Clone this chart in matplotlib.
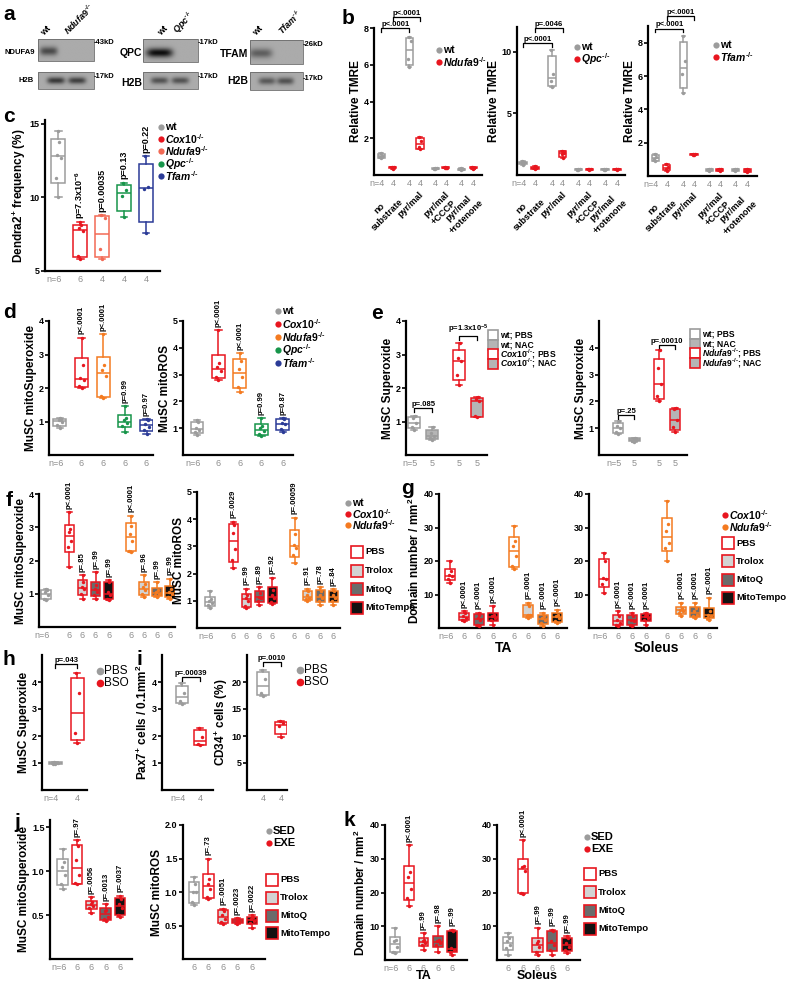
import numpy as np
import matplotlib
matplotlib.use("Agg")
import matplotlib.pyplot as plt
from matplotlib.patches import Rectangle

plt.rcParams["font.family"] = ["Liberation Sans", "DejaVu Sans"]
plt.rcParams["mathtext.fontset"] = "custom"
plt.rcParams["mathtext.rm"] = "Liberation Sans:bold"
plt.rcParams["mathtext.it"] = "Liberation Sans:italic:bold"
plt.rcParams["mathtext.bf"] = "Liberation Sans:bold"
plt.rcParams["mathtext.default"] = "regular"

W, H = 788, 983

GREY = "#9c9c9c"
RED = "#e8161f"
ORANGE = "#f47a20"
SALMON = "#f26a55"
GREEN = "#17954a"
BLUE = "#2b3b97"
NGREY = "#8e8e8e"
TROLOX = "#d3d3d3"
MITOQ = "#6b6b6b"
MITOTEMPO = "#121212"
NAC = "#b5b5b5"

# ---------------- data ----------------
# a: western blot band strengths (wt, knockout)
ndufa9_band = [0.38, 0.0]
ndufa9_h2b = [0.45, 0.42]
qpc_band = [0.62, 0.0]
qpc_h2b = [0.35, 0.35]
tfam_band = [0.30, 0.0]
tfam_h2b = [0.32, 0.35]

# b: relative TMRE, (wt, KO) for each condition
b_conditions = ["no\nsubstrate", "pyr/mal", "pyr/mal\n+CCCP", "pyr/mal\n+rotenone"]
b_ndufa9 = [[0.9, 1.0, 1.05, 1.2], [0.35, 0.4, 0.42, 0.46],
            [5.9, 6.3, 7.3, 7.5], [1.4, 1.55, 1.85, 2.05],
            [0.32, 0.34, 0.36, 0.38], [0.36, 0.38, 0.4, 0.42],
            [0.26, 0.3, 0.33, 0.36], [0.35, 0.38, 0.4, 0.43]]
b_qpc = [[0.85, 0.95, 1.05, 1.1], [0.45, 0.55, 0.6, 0.7],
         [7.1, 7.6, 8.2, 10.1], [1.4, 1.7, 1.8, 1.95],
         [0.42, 0.44, 0.46, 0.48], [0.44, 0.45, 0.47, 0.49],
         [0.42, 0.44, 0.46, 0.48], [0.44, 0.45, 0.47, 0.49]]
b_tfam = [[0.9, 1.0, 1.15, 1.3], [0.3, 0.45, 0.55, 0.7],
          [5.0, 6.1, 6.9, 8.4], [1.25, 1.28, 1.32, 1.35],
          [0.32, 0.36, 0.4, 0.44], [0.3, 0.35, 0.4, 0.44],
          [0.3, 0.35, 0.4, 0.44], [0.25, 0.32, 0.38, 0.44]]

# c: Dendra2+ frequency
c_groups = ["wt", "Cox10", "Ndufa9", "Qpc", "Tfam"]
c_vals = [[10.0, 11.3, 12.7, 12.9, 13.8, 14.5], [5.8, 6.0, 7.7, 7.9, 8.1, 8.3],
          [5.8, 6.5, 8.6, 8.8], [8.7, 10.1, 10.5, 11.0], [7.6, 10.6, 10.7, 12.8]]
c_n = ["n=6", "6", "4", "4", "4"]
c_p = [None, "p=7.3x10$^{-6}$", "p=0.00035", "p=0.13", "p=0.22"]

# d: mitoSuperoxide / mitoROS
d_sox = [[0.8, 0.9, 1.0, 1.05, 1.08, 1.1], [2.0, 2.05, 2.25, 2.3, 2.7, 3.5],
         [1.7, 1.75, 2.35, 2.55, 2.7, 3.6], [0.7, 0.88, 0.95, 1.05, 1.1, 1.45],
         [0.62, 0.75, 0.85, 0.92, 1.05, 1.07]]
d_ros = [[0.75, 0.85, 0.92, 1.0, 1.22, 1.3], [2.8, 2.9, 3.15, 3.3, 3.45, 4.65],
         [2.35, 2.55, 2.9, 3.2, 3.5, 3.8], [0.7, 0.78, 0.9, 1.0, 1.1, 1.38],
         [0.85, 0.98, 1.15, 1.2, 1.35, 1.38]]
d_p_sox = [None, "p<.0001", "p<.0001", "p=0.99", "p=0.97"]
d_p_ros = [None, "p<.0001", "p<.0001", "p=0.99", "p=0.87"]

# e: superoxide with NAC (wt PBS, wt NAC, KO PBS, KO NAC)
e_cox10 = [[0.75, 0.85, 0.95, 1.1, 1.15], [0.45, 0.5, 0.58, 0.65, 0.85],
           [2.1, 2.4, 2.8, 2.9, 3.35], [1.12, 1.15, 1.62, 1.68, 1.72]]
e_ndufa9 = [[0.8, 0.85, 1.0, 1.1, 1.28], [0.5, 0.52, 0.55, 0.6, 0.65],
            [2.0, 2.2, 2.65, 3.25, 3.9], [0.85, 1.05, 1.3, 1.7, 1.75]]

# f: antioxidant treatments (wt, Cox10 x4, Ndufa9 x4)
treatments = ["PBS", "Trolox", "MitoQ", "MitoTempo"]
f_sox = [[0.8, 0.85, 0.95, 1.05, 1.1, 1.15],
         [1.8, 2.4, 2.6, 2.85, 2.95, 3.45], [0.85, 1.0, 1.15, 1.2, 1.35, 1.55],
         [0.85, 0.95, 1.05, 1.15, 1.25, 1.65], [0.8, 0.85, 0.95, 1.05, 1.35, 1.4],
         [2.25, 2.3, 2.6, 2.8, 3.05, 3.35], [0.9, 1.0, 1.1, 1.2, 1.3, 1.55],
         [0.9, 0.95, 1.0, 1.05, 1.1, 1.35], [0.85, 0.9, 1.0, 1.05, 1.15, 1.45]]
f_ros = [[0.75, 0.85, 0.92, 1.0, 1.05, 1.35],
         [2.2, 2.5, 2.9, 3.5, 3.8, 3.9], [0.75, 0.8, 1.0, 1.1, 1.2, 1.45],
         [0.85, 1.0, 1.1, 1.15, 1.3, 1.5], [0.9, 0.95, 1.1, 1.2, 1.4, 1.85],
         [2.4, 2.7, 2.95, 3.05, 3.45, 4.05], [1.0, 1.05, 1.1, 1.2, 1.35, 1.45],
         [0.85, 1.0, 1.1, 1.2, 1.35, 1.5], [0.85, 1.0, 1.1, 1.2, 1.35, 1.42]]
f_p_sox = [None, "p<.0001", "p=.85", "p=.99", "p=.99", "p<.0001", "p=.96", "p=.99", "p=.99"]
f_p_ros = [None, "p=.0029", "p=.99", "p=.89", "p=.92", "p=.00059", "p=.91", "p=.78", "p=.84"]

# g: domain number (Cox10 x4, Ndufa9 x4)
g_ta = [[13.5, 14.5, 15.5, 15.8, 17.0, 20.0], [2.0, 2.5, 3.0, 3.5, 4.5, 5.0],
        [0.5, 1.0, 2.5, 3.0, 4.0, 4.5], [1.0, 2.5, 3.0, 3.5, 4.0, 6.5],
        [17.5, 18.5, 21.5, 24.5, 26.0, 30.5], [3.0, 3.5, 4.0, 4.0, 6.5, 7.5],
        [0.5, 1.5, 2.5, 3.0, 3.5, 4.5], [1.5, 2.0, 3.0, 3.5, 4.0, 5.5]]
g_sol = [[10.5, 13.0, 14.5, 15.0, 20.0, 22.5], [0.5, 1.0, 1.5, 2.5, 3.5, 5.0],
         [0.5, 1.0, 2.0, 2.5, 3.5, 4.5], [1.0, 2.5, 3.0, 3.5, 4.0, 4.5],
         [20.0, 24.0, 25.5, 29.0, 31.0, 38.0], [3.5, 4.5, 5.0, 5.5, 6.0, 7.5],
         [3.0, 3.5, 4.0, 5.0, 6.0, 7.5], [2.5, 3.0, 3.5, 4.0, 5.0, 9.0]]
g_p_ta = [None, "p<.0001", "p<.0001", "p<.0001", None, "p=.0001", "p=.0001", "p<.0001"]
g_p_sol = [None, "p<.0001", "p<.0001", "p<.0001", None, "p<.0001", "p<.0001", "p<.0001"]

# h, i: BSO
h_vals = [[0.95, 0.98, 1.0, 1.03], [1.75, 2.1, 3.6, 4.35]]
i_pax7 = [[3.2, 3.3, 3.6, 3.95], [1.65, 1.7, 1.95, 2.3]]
i_cd34 = [[17.5, 18.0, 20.5, 22.2], [9.8, 11.8, 12.4, 12.7]]

# j, k: exercise (SED, EXE PBS/Trolox/MitoQ/MitoTempo)
j_sox = [[0.8, 0.85, 0.95, 1.05, 1.1, 1.25], [0.85, 0.86, 0.95, 1.12, 1.28, 1.35],
         [0.52, 0.58, 0.6, 0.62, 0.65, 0.7], [0.43, 0.45, 0.48, 0.55, 0.56, 0.62],
         [0.48, 0.5, 0.58, 0.62, 0.68, 0.72]]
j_ros = [[0.8, 0.85, 1.0, 1.0, 1.12, 1.22], [0.9, 0.92, 1.05, 1.12, 1.2, 1.5],
         [0.52, 0.55, 0.6, 0.65, 0.72, 0.75], [0.52, 0.54, 0.55, 0.58, 0.6, 0.61],
         [0.47, 0.53, 0.56, 0.6, 0.62, 0.65]]
j_p_sox = [None, "p=.97", "p=.0056", "p=.0013", "p=.0037"]
j_p_ros = [None, "p=.73", "p=.0051", "p=.0023", "p=.0022"]
k_ta = [[2.0, 2.5, 4.0, 5.5, 6.0, 9.5], [16.0, 18.5, 21.0, 24.5, 26.0, 34.0],
        [3.0, 4.5, 5.0, 5.5, 6.0, 8.0], [2.5, 4.5, 5.0, 5.5, 6.0, 10.0],
        [1.5, 2.5, 3.0, 3.5, 8.5, 9.0]]
k_sol = [[1.5, 3.5, 4.5, 5.5, 6.5, 8.0], [19.5, 20.0, 26.5, 27.5, 28.0, 35.5],
         [1.5, 2.5, 4.0, 5.0, 5.5, 9.5], [1.5, 3.0, 4.5, 5.5, 8.5, 9.0],
         [2.0, 3.0, 4.0, 5.0, 6.5, 7.0]]
k_p_ta = [None, "p<.0001", "p=.99", "p=.98", "p=.99"]
k_p_sol = [None, "p<.0001", "p=.99", "p=.99", "p=.99"]

JIT = np.array([0.0, -0.18, 0.18, -0.08, 0.08, 0.0])


def ko(name):
    return r"$\mathit{%s}^{‐/‐}$" % name


fig = plt.figure(figsize=(W / 100, H / 100), dpi=100)
bg = fig.add_axes([0, 0, 1, 1])
bg.set_autoscale_on(False)
bg.set_xlim(0, W)
bg.set_ylim(H, 0)
bg.axis("off")


def prism_stats(vals):
    x = np.sort(np.asarray(vals, float))
    n = len(x)

    def q(p):
        r = min(max((n + 1) * p - 1, 0), n - 1)
        lo = int(np.floor(r))
        hi = min(lo + 1, n - 1)
        return x[lo] + (r - lo) * (x[hi] - x[lo])
    return dict(med=q(0.5), q1=q(0.25), q3=q(0.75), whislo=x[0], whishi=x[-1], fliers=[])


def make_axes(x0, x1, ytop, ybot, xlim, ylim, yticks, ylabel, labels=None):
    ax = fig.add_axes([x0 / W, 1 - ybot / H, (x1 - x0) / W, (ybot - ytop) / H])
    ax.patch.set_visible(False)
    ax.set_xlim(*xlim)
    ax.set_ylim(*ylim)
    for s in ("top", "right"):
        ax.spines[s].set_visible(False)
    for s in ("left", "bottom"):
        ax.spines[s].set_linewidth(1.6)
    ax.set_xticks([])
    ax.set_yticks(yticks)
    ax.set_yticklabels(labels or ["%g" % t for t in yticks], fontsize=6.5, fontweight="bold")
    ax.tick_params(axis="y", length=3, width=1.2, pad=1)
    if ylabel:
        ax.set_ylabel(ylabel, fontsize=8.5, fontweight="bold", labelpad=1)
    return ax


def boxes(ax, data, pos, edges, fills, width):
    for vals, p, ec, fc in zip(data, pos, edges, fills):
        lp = dict(color=ec, linewidth=1.1)
        ax.bxp([prism_stats(vals)], positions=[p], widths=width, capwidths=width * 0.5,
               patch_artist=True, showfliers=False, manage_ticks=False,
               boxprops=dict(facecolor=fc, edgecolor=ec, linewidth=1.1),
               medianprops=lp, whiskerprops=lp, capprops=lp)
        ax.scatter(p + JIT[:len(vals)] * width, vals, s=6, color=ec, zorder=4, linewidths=0)


def n_labels(ax, pos, labels):
    for p, t in zip(pos, labels):
        first = t.startswith("n=")
        ax.annotate(t, (p, 0), xycoords=("data", "axes fraction"), xytext=(2.5 if first else 0, -3),
                    textcoords="offset points", ha="right" if first else "center", va="top",
                    fontsize=6.5, color=NGREY, annotation_clip=False)


def p_labels(ax, pos, data, labels, fs=5.5):
    for p, vals, t in zip(pos, data, labels):
        if t:
            ax.annotate(t, (p, max(vals)), xytext=(0, 2.5), textcoords="offset points", rotation=90,
                        ha="center", va="bottom", fontsize=fs, fontweight="bold", annotation_clip=False)


def bracket(ax, x1, x2, y, label, h):
    ax.plot([x1, x1, x2, x2], [y - h, y, y, y - h], color="k", lw=0.9, clip_on=False)
    ax.text((x1 + x2) / 2, y, label, ha="center", va="bottom", fontsize=5.5, fontweight="bold", clip_on=False)


def under_label(ax, x, text, dy=-9, fs=10):
    ax.annotate(text, (x, 0), xycoords=("data", "axes fraction"), xytext=(0, dy), textcoords="offset points",
                ha="center", va="top", fontsize=fs, fontweight="bold", annotation_clip=False)


def dot_legend(x, y, items, dy, fs=7.5, weight="bold", ms=4.5):
    for i, (lab, c) in enumerate(items):
        bg.plot(x, y + i * dy, "o", ms=ms, color=c, mew=0)
        bg.text(x + 4, y + i * dy, lab, va="center", ha="left", fontsize=fs, fontweight=weight)


def square_legend(x, y, items, dy, fs=6.8, ms=8):
    for i, (lab, fc, ec) in enumerate(items):
        bg.plot(x, y + i * dy, "s", ms=ms, mfc=fc, mec=ec, mew=1.2)
        bg.text(x + ms * 0.8 + 1, y + i * dy, lab, va="center", ha="left", fontsize=fs, fontweight="bold")


def blot(x0, y0, x1, y1, centers, strengths, yc=0.5, bw=0.16, bh=0.2):
    xx, yy = np.meshgrid(np.linspace(0, 1, 120), np.linspace(0, 1, 50))
    img = np.full(xx.shape, 0.67)
    for cx, s in zip(centers, strengths):
        img -= s * np.exp(-((xx - cx) / bw) ** 4 - ((yy - yc) / bh) ** 2)
    bg.imshow(np.clip(img, 0, 1), cmap="gray", vmin=0, vmax=1, extent=(x0, x1, y1, y0),
              aspect="auto", interpolation="bilinear", zorder=1)
    bg.add_patch(Rectangle((x0, y0), x1 - x0, y1 - y0, fill=False, ec="#6a6a6a", lw=0.6, zorder=2))


# ---------------- panel letters ----------------
for letter, x, y in [("a", 3, 5), ("b", 342, 9), ("c", 3, 107), ("d", 3, 303), ("e", 371, 304),
                     ("f", 6, 491), ("g", 401, 479), ("h", 3, 650), ("i", 137, 650),
                     ("j", 14, 813), ("k", 344, 811)]:
    bg.text(x, y, letter, fontsize=15, fontweight="bold", ha="left", va="top")

# ---------------- a: blots ----------------
blot(38, 39, 94, 61, [0.19, 0.7], ndufa9_band, yc=0.55)
blot(38, 72, 94, 89, [0.32, 0.7], ndufa9_h2b)
blot(143, 39, 198, 62, [0.3, 0.7], qpc_band, bw=0.24, yc=0.6)
blot(143, 72, 198, 89, [0.3, 0.68], qpc_h2b)
blot(250, 40, 303, 64, [0.2, 0.7], tfam_band, bw=0.22, yc=0.55)
blot(250, 72, 303, 90, [0.32, 0.67], tfam_h2b)
for txt, x, y, fs in [("NDUFA9", 35, 53, 5.5), ("H2B", 34, 81, 5.5), ("QPC", 142, 53, 7.5),
                      ("H2B", 142, 83, 7.5), ("TFAM", 248, 54, 7.5), ("H2B", 248, 81, 7.5)]:
    bg.text(x, y, txt, ha="right", va="center", fontsize=fs, fontweight="bold")
for txt, x, y in [("-43kD", 94, 43), ("-17kD", 94, 77), ("-17kD", 198, 42), ("-17kD", 198, 77),
                  ("-26kD", 303, 44), ("-17kD", 303, 79)]:
    bg.text(x, y, txt, ha="left", va="center", fontsize=5.5, fontweight="bold")
for txt, x in [("wt", 45), (ko("Ndufa9"), 70), ("wt", 162), (ko("Qpc"), 180), ("wt", 257), (ko("Tfam"), 284)]:
    bg.text(x, 37, txt, rotation=45, rotation_mode="anchor", ha="left", va="bottom",
            fontsize=6.5, fontweight="bold")

# ---------------- b: TMRE ----------------
pos_b = [0, 1, 2.4, 3.3, 4.6, 5.5, 6.8, 7.8]
for data, gene, x0, x1, ytop, ybot, xlim, ylim, yt, br, leg in [
        (b_ndufa9, "Ndufa9", 374, 482, 28, 175, (-0.6, 8.56), (0, 8), [2, 4, 6, 8],
         [(0, 2.4, 8.0, "p<.0001"), (1, 3.3, 8.6, "p<.0001")], (439, 50)),
        (b_qpc, "Qpc", 517, 625, 27, 175, (-0.5, 8.46), (0, 12), [5, 10],
         [(0, 2.4, 10.7, "p<.0001"), (1, 3.3, 11.9, "p=.0046")], (577, 47)),
        (b_tfam, "Tfam", 648, 757, 26, 176, (-0.6, 8.64), (0, 9), [2, 4, 6, 8],
         [(0, 2.4, 8.85, "p<.0001"), (1, 3.3, 9.6, "p<.0001")], (716, 45))]:
    ax = make_axes(x0, x1, ytop, ybot, xlim, ylim, yt, "Relative TMRE")
    boxes(ax, data, pos_b, [GREY, RED] * 4, ["white"] * 8, 0.6)
    n_labels(ax, pos_b, ["n=4"] + ["4"] * 7)
    for k, cond in enumerate(b_conditions):
        ax.annotate(cond, ((pos_b[2 * k] + pos_b[2 * k + 1]) / 2, 0), xycoords=("data", "axes fraction"),
                    xytext=(3, -11), textcoords="offset points", rotation=45, rotation_mode="anchor",
                    ha="right", va="top", multialignment="center", fontsize=6.5, fontweight="bold",
                    annotation_clip=False)
    for a_, b_, y, lab in br:
        bracket(ax, a_, b_, y, lab, ylim[1] * 0.025)
    dot_legend(leg[0], leg[1], [("wt", GREY), (ko(gene), RED)], 12, fs=7.5)

# ---------------- c ----------------
c_cols = [GREY, RED, SALMON, GREEN, BLUE]
ax = make_axes(45, 160, 120, 271, (-0.6, 4.64), (5, 15.27), [5, 10, 15], "Dendra2$^{+}$ frequency (%)")
boxes(ax, c_vals, range(5), c_cols, ["white"] * 5, 0.62)
n_labels(ax, range(5), c_n)
p_labels(ax, range(5), c_vals, c_p, fs=6.5)
dot_legend(161, 127, [("wt", GREY), (ko("Cox10"), RED), (ko("Ndufa9"), SALMON),
                      (ko("Qpc"), GREEN), (ko("Tfam"), BLUE)], 12.2)

# ---------------- d ----------------
d_cols = [GREY, RED, ORANGE, GREEN, BLUE]
ax = make_axes(49, 153, 321, 455, (-0.5, 4.3), (0, 4), [1, 2, 3, 4], "MuSC mitoSuperoxide")
boxes(ax, d_sox, range(5), d_cols, ["white"] * 5, 0.6)
n_labels(ax, range(5), ["n=6"] + ["6"] * 4)
p_labels(ax, range(5), d_sox, d_p_sox)
ax = make_axes(183, 293, 321, 455, (-0.65, 4.47), (0, 5), [1, 2, 3, 4, 5], "MuSC mitoROS")
boxes(ax, d_ros, range(5), d_cols, ["white"] * 5, 0.6)
n_labels(ax, range(5), ["n=6"] + ["6"] * 4)
p_labels(ax, range(5), d_ros, d_p_ros)
dot_legend(278, 311, [("wt", GREY), (ko("Cox10"), RED), (ko("Ndufa9"), ORANGE),
                      (ko("Qpc"), GREEN), (ko("Tfam"), BLUE)], 13)

# ---------------- e ----------------
pos_e = [0, 1, 2.5, 3.5]
e_edges = [GREY, GREY, RED, RED]
e_fills = ["white", NAC, "white", NAC]
for data, gene, x0, x1, xlim, ylim, yt, br, leg in [
        (e_cox10, "Cox10", 406, 487, (-0.45, 4.05), (0, 4), [1, 2, 3, 4],
         [(0, 1, 1.4, "p=.085"), (2.5, 3.5, 3.55, "p=1.3x10$^{-5}$")], (493, 335)),
        (e_ndufa9, "Ndufa9", 599, 687, (-1.17, 4.23), (0, 5), [1, 2, 3, 4],
         [(0, 1, 1.5, "p=.25"), (2.5, 3.5, 4.1, "p=.00010")], (695, 334))]:
    ax = make_axes(x0, x1, 321, 455, xlim, ylim, yt, "MuSC Superoxide")
    boxes(ax, data, pos_e, e_edges, e_fills, 0.65)
    n_labels(ax, pos_e, ["n=5", "5", "5", "5"])
    for a_, b_, y, lab in br:
        bracket(ax, a_, b_, y, lab, ylim[1] * 0.03)
    square_legend(leg[0], leg[1], [("wt; PBS", "white", GREY), ("wt; NAC", NAC, GREY),
                                   (ko(gene) + "; PBS", "white", RED), (ko(gene) + "; NAC", NAC, RED)],
                  9.6, fs=6.2, ms=7)

# ---------------- f ----------------
pos_f = [0, 1.8, 2.8, 3.8, 4.8, 6.5, 7.5, 8.5, 9.5]
f_edges = [GREY] + [RED] * 4 + [ORANGE] * 4
f_fills = ["white"] + ["white", TROLOX, MITOQ, MITOTEMPO] * 2
ax = make_axes(39, 175, 494, 627, (-0.54, 9.9), (0, 4), [1, 2, 3, 4], "MuSC mitoSuperoxide")
boxes(ax, f_sox, pos_f, f_edges, f_fills, 0.75)
n_labels(ax, pos_f, ["n=6"] + ["6"] * 8)
p_labels(ax, pos_f, f_sox, f_p_sox)
ax = make_axes(197, 340, 492, 628, (-1.0, 10.0), (0, 5), [1, 2, 3, 4, 5], "MuSC mitoROS")
boxes(ax, f_ros, pos_f, f_edges, f_fills, 0.75)
n_labels(ax, pos_f, ["n=6"] + ["6"] * 8)
p_labels(ax, pos_f, f_ros, f_p_ros)
dot_legend(348, 503, [("wt", GREY), (ko("Cox10"), RED), (ko("Ndufa9"), ORANGE)], 11)
square_legend(357, 552, list(zip(treatments, ["white", TROLOX, MITOQ, MITOTEMPO], [RED] * 4)), 18.5, ms=9)

# ---------------- g ----------------
pos_g = [0, 1, 2, 3, 4.5, 5.5, 6.5, 7.5]
g_edges = [RED] * 4 + [ORANGE] * 4
g_fills = ["white", TROLOX, MITOQ, MITOTEMPO] * 2
for data, pl, x0, x1, xlim, name, yl in [
        (g_ta, g_p_ta, 439, 567, (-0.77, 8.2), "TA", "Domain number / mm$^{2}$"),
        (g_sol, g_p_sol, 589, 717, (-1.07, 8.07), "Soleus", None)]:
    ax = make_axes(x0, x1, 494, 628, xlim, (0, 40), [10, 20, 30, 40], yl)
    boxes(ax, data, pos_g, g_edges, g_fills, 0.7)
    n_labels(ax, pos_g, ["n=6"] + ["6"] * 7)
    p_labels(ax, pos_g, data, pl)
    under_label(ax, (pos_g[0] + pos_g[-1]) / 2, name)
dot_legend(725, 515, [(ko("Cox10"), RED), (ko("Ndufa9"), ORANGE)], 12)
square_legend(728, 543, list(zip(treatments, ["white", TROLOX, MITOQ, MITOTEMPO], [RED] * 4)), 18.3, ms=9)

# ---------------- h ----------------
ax = make_axes(42, 87, 655, 790, (-0.6, 1.45), (0, 5), [1, 2, 3, 4], "MuSC Superoxide")
boxes(ax, h_vals, [0, 1], [GREY, RED], ["white"] * 2, 0.6)
n_labels(ax, [0, 1], ["n=4", "4"])
bracket(ax, 0, 1, 4.67, "p=.043", 0.15)
dot_legend(100, 671, [("PBS", GREY), ("BSO", RED)], 11.5, fs=8.5, weight="normal", ms=5.5)

# ---------------- i ----------------
ax = make_axes(162, 213, 655, 790, (-1.1, 1.7), (0, 5), [1, 2, 3, 4], "Pax7$^{+}$ cells / 0.1mm$^{2}$")
boxes(ax, i_pax7, [0, 1], [GREY, RED], ["white"] * 2, 0.65)
n_labels(ax, [0, 1], ["n=4", "4"])
bracket(ax, 0, 1, 4.2, "p=.00039", 0.15)
ax = make_axes(247, 287, 655, 790, (-0.9, 1.33), (0, 25), [5, 10, 15, 20], "CD34$^{+}$ cells (%)")
boxes(ax, i_cd34, [0, 1], [GREY, RED], ["white"] * 2, 0.65)
n_labels(ax, [0, 1], ["4", "4"])
bracket(ax, 0, 1, 23.7, "p=.0010", 0.75)
dot_legend(300, 670, [("PBS", GREY), ("BSO", RED)], 12, fs=8.5, weight="normal", ms=5.5)

# ---------------- j ----------------
jk_edges = [GREY] + [RED] * 4
jk_fills = ["white", "white", TROLOX, MITOQ, MITOTEMPO]
ax = make_axes(50, 132, 820, 959, (-0.9, 4.85), (0, 1.58), [0.5, 1.0, 1.5], "MuSC mitoSuperoxide",
               ["0.5", "1.0", "1.5"])
boxes(ax, j_sox, range(5), jk_edges, jk_fills, 0.75)
n_labels(ax, range(5), ["n=6"] + ["6"] * 4)
p_labels(ax, range(5), j_sox, j_p_sox)
ax = make_axes(183, 265, 825, 959, (-0.76, 4.9), (0, 2.0), [0.5, 1.0, 1.5, 2.0], "MuSC mitoROS",
               ["0.5", "1.0", "1.5", "2.0"])
boxes(ax, j_ros, range(5), jk_edges, jk_fills, 0.75)
n_labels(ax, range(5), ["6"] * 5)
p_labels(ax, range(5), j_ros, j_p_ros)
dot_legend(269, 831, [("SED", GREY), ("EXE", RED)], 12, fs=8)
square_legend(272, 880, list(zip(treatments, ["white", TROLOX, MITOQ, MITOTEMPO], [RED] * 4)), 17.8, ms=9)

# ---------------- k ----------------
for data, pl, x0, x1, xlim, nl, name, yl in [
        (k_ta, k_p_ta, 385, 467, (-0.7, 5.05), ["n=6"] + ["6"] * 4, "TA", "Domain number / mm$^{2}$"),
        (k_sol, k_p_sol, 497, 580, (-0.75, 4.88), ["6"] * 5, "Soleus", None)]:
    ax = make_axes(x0, x1, 825, 960, xlim, (0, 40), [10, 20, 30, 40], yl)
    boxes(ax, data, range(5), jk_edges, jk_fills, 0.7)
    n_labels(ax, range(5), nl)
    p_labels(ax, range(5), data, pl)
    under_label(ax, 2, name, dy=-7, fs=9)
dot_legend(587, 837, [("SED", GREY), ("EXE", RED)], 12, fs=8)
square_legend(590, 874, list(zip(treatments, ["white", TROLOX, MITOQ, MITOTEMPO], [RED] * 4)), 18.3, ms=9)

fig.savefig("out.png", dpi=100)
